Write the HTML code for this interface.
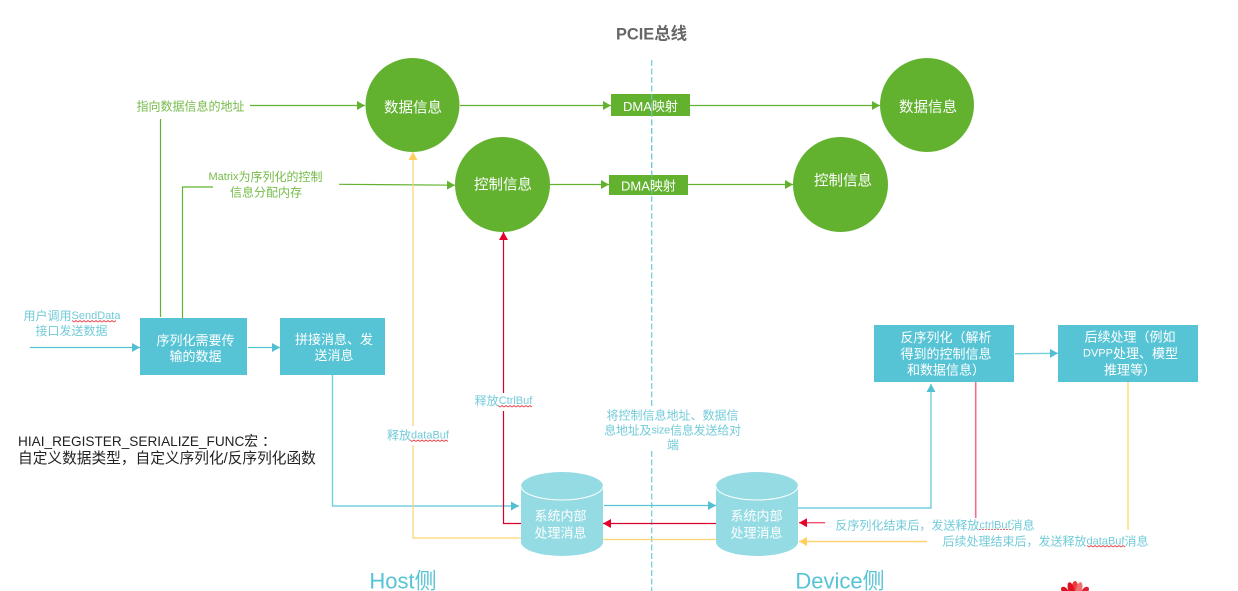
<!DOCTYPE html>
<html><head><meta charset="utf-8"><style>
html,body{margin:0;padding:0;background:#fff;width:1238px;height:591px;overflow:hidden}
svg{display:block}
text{font-family:"Liberation Sans","Noto Sans CJK SC",sans-serif;dominant-baseline:central;transform:translateY(1px)}
.w{fill:#fff;font-size:13px;text-anchor:middle}
.c{fill:#fff;font-size:14.500px;text-anchor:middle}
.t{fill:#72cbd9;font-size:12px;text-anchor:middle}
.g{fill:#74bb48;font-size:12px;text-anchor:middle}
.l{font-size:11px}
.wavy{fill:none;stroke:#e8424a;stroke-width:.8}
</style></head><body>
<svg width="1238" height="591" viewBox="0 0 1238 591" xmlns="http://www.w3.org/2000/svg">
<defs>
<marker id="ag" markerUnits="userSpaceOnUse" markerWidth="8" markerHeight="9" refX="8" refY="4.500" orient="auto"><path d="M0 0L8 4.500L0 9z" fill="#62b22f"/></marker>
<marker id="at" markerUnits="userSpaceOnUse" markerWidth="8" markerHeight="9" refX="8" refY="4.500" orient="auto"><path d="M0 0L8 4.500L0 9z" fill="#52bfd2"/></marker>
<marker id="ar" markerUnits="userSpaceOnUse" markerWidth="8" markerHeight="9" refX="8" refY="4.500" orient="auto"><path d="M0 0L8 4.500L0 9z" fill="#e4002b"/></marker>
<marker id="ay" markerUnits="userSpaceOnUse" markerWidth="8" markerHeight="9" refX="8" refY="4.500" orient="auto"><path d="M0 0L8 4.500L0 9z" fill="#ffd05f"/></marker>
</defs>

<text x="651.500" y="33" textLength="71" lengthAdjust="spacingAndGlyphs" style="font-size:17px;font-weight:bold;text-anchor:middle;fill:#666">PCIE总线</text>
<line x1="651.700" y1="60" x2="651.700" y2="591" stroke="#6ccbd9" stroke-width="1.200" stroke-dasharray="6 2.500"/>

<!-- green connectors -->
<g fill="none" stroke="#62b22f" stroke-width="1.200">
<path d="M250 105.500H365" marker-end="url(#ag)"/>
<path d="M160.500 119V317"/>
<path d="M182.500 318V187H213"/>
<path d="M339 184.300L455 185.200" marker-end="url(#ag)"/>
<path d="M460 105.500H611" marker-end="url(#ag)"/>
<path d="M690 105.500H880" marker-end="url(#ag)"/>
<path d="M550 184.500H609" marker-end="url(#ag)"/>
<path d="M688 184.500H793" marker-end="url(#ag)"/>
</g>
<text class="g" x="190.500" y="105.500">指向数据信息的地址</text>
<text class="g" x="265.500" y="176"><tspan class="l">Matrix</tspan>为序列化的控制</text>
<text class="g" x="266" y="191.500">信息分配内存</text>

<!-- circles -->
<g fill="#62b22f">
<circle cx="412.500" cy="105" r="47"/>
<circle cx="502.500" cy="184.500" r="47.500"/>
<circle cx="927" cy="105" r="47"/>
<circle cx="840.500" cy="184.500" r="47.500"/>
<rect x="611" y="94" width="79" height="22"/>
<rect x="609" y="175" width="79" height="20"/>
</g>
<line x1="651.700" y1="94" x2="651.700" y2="195" stroke="#6ccbd9" stroke-width="1" stroke-dasharray="6 2.500"/>
<text class="c" x="413" y="107.500">数据信息</text>
<text class="c" x="503" y="184.500">控制信息</text>
<text class="c" x="928" y="107">数据信息</text>
<text class="c" x="843" y="180.500">控制信息</text>
<text class="w" x="650.500" y="105.500">DMA映射</text>
<text class="w" x="648.500" y="185">DMA映射</text>

<!-- teal/red/yellow connectors -->
<path d="M30 347.500H140" fill="none" stroke="#57c4d5" stroke-width="1.200" marker-end="url(#at)"/>
<path d="M248 347.500H280" fill="none" stroke="#57c4d5" stroke-width="1.200" marker-end="url(#at)"/>
<path d="M332.500 375V506H519" fill="none" stroke="#73cfdd" stroke-width="1.400" marker-end="url(#at)"/>
<path d="M604 505.500H716" fill="none" stroke="#57c4d5" stroke-width="1.200" marker-end="url(#at)"/>
<path d="M798 508H931V384" fill="none" stroke="#73cfdd" stroke-width="1.400" marker-end="url(#at)"/>
<path d="M1015 353.700L1058 353.300" fill="none" stroke="#73cfdd" stroke-width="1.400" marker-end="url(#at)"/>

<path d="M521 523.500H503.500V232" fill="none" stroke="#d9002c" stroke-width="1.200" marker-end="url(#ar)"/>
<path d="M716 523.500H603" fill="none" stroke="#d9002c" stroke-width="1.200" marker-end="url(#ar)"/>
<path d="M975.700 380V518" fill="none" stroke="#ee7088" stroke-width="1.600"/>
<path d="M825 522.700H799" fill="none" stroke="#ee5070" stroke-width="1.400" marker-end="url(#ar)"/>

<path d="M521 538H413V152" fill="none" stroke="#ffd372" stroke-width="1.200" marker-end="url(#ay)"/>
<path d="M603 539.500H720" fill="none" stroke="#ffd372" stroke-width="1.200"/>
<path d="M1128 382V530" fill="none" stroke="#ffd96f" stroke-width="1.400"/>
<path d="M927 541.500H799" fill="none" stroke="#ffd372" stroke-width="1.400" marker-end="url(#ay)"/>

<!-- boxes -->
<g fill="#57c4d5">
<rect x="140" y="318" width="107" height="57"/>
<rect x="280" y="318" width="105" height="57"/>
<rect x="874" y="325" width="140" height="57"/>
<rect x="1058" y="325" width="140" height="57"/>
</g>
<text class="w" x="195.500" y="339.500">序列化需要传</text>
<text class="w" x="195.500" y="355.500">输的数据</text>
<text class="w" x="334" y="338.500">拼接消息、发</text>
<text class="w" x="334" y="354.500">送消息</text>
<text class="w" x="946" y="336.500">反序列化&#xFF08;解析</text>
<text class="w" x="946" y="353">得到的控制信息</text>
<text class="w" x="946" y="369">和数据信息&#xFF09;</text>
<text class="w" x="1130" y="336">后续处理&#xFF08;例如</text>
<text class="w" x="1130.500" y="352.500"><tspan class="l">DVPP</tspan>处理、模型</text>
<text class="w" x="1130" y="369">推理等&#xFF09;</text>

<!-- cylinders -->
<g>
<path d="M521 486A41 14 0 0 1 603 486V542A41 14 0 0 1 521 542Z" fill="#94dbe4"/>
<path d="M521 486A41 14 0 0 0 603 486" fill="none" stroke="#fff" stroke-width="1"/>
<path d="M716 486A41 14 0 0 1 798 486V542A41 14 0 0 1 716 542Z" fill="#94dbe4"/>
<path d="M716 486A41 14 0 0 0 798 486" fill="none" stroke="#fff" stroke-width="1"/>
</g>
<text class="w" x="560.500" y="515">系统内部</text>
<text class="w" x="560.500" y="532">处理消息</text>
<text class="w" x="756.500" y="515">系统内部</text>
<text class="w" x="756.500" y="532">处理消息</text>

<!-- label backgrounds -->
<g fill="#fff">
<rect x="472" y="393" width="64" height="18"/>
<rect x="385" y="426" width="66" height="19"/>
<rect x="602" y="407" width="142" height="44"/>
</g>

<!-- teal labels -->
<text class="t" x="72" y="315">用户调用<tspan class="l">SendData</tspan></text>
<text class="t" x="71.500" y="330">接口发送数据</text>
<path class="wavy" d="M72 320.500l2 1.500 2-1.500 2 1.500 2-1.500 2 1.500 2-1.500 2 1.500 2-1.500 2 1.500 2-1.500 2 1.500 2-1.500 2 1.500 2-1.500 2 1.500 2-1.500 2 1.500 2-1.500 2 1.500 2-1.500 2 1.500 2-1.500"/>
<text class="t" x="503.500" y="400">释放<tspan class="l">CtrlBuf</tspan></text>
<path class="wavy" d="M498 405.500l2 1.500 2-1.500 2 1.500 2-1.500 2 1.500 2-1.500 2 1.500 2-1.500 2 1.500 2-1.500 2 1.500 2-1.500 2 1.500 2-1.500 2 1.500 2-1.500 2 1.500"/>
<text class="t" x="418" y="434.500">释放<tspan class="l">dataBuf</tspan></text>
<path class="wavy" d="M410 440l2 1.500 2-1.500 2 1.500 2-1.500 2 1.500 2-1.500 2 1.500 2-1.500 2 1.500 2-1.500 2 1.500 2-1.500 2 1.500 2-1.500 2 1.500 2-1.500 2 1.500 2-1.500 2 1.500"/>
<text class="t" x="672.500" y="414.500">将控制信息地址、数据信</text>
<text class="t" x="672.500" y="429.500" style="letter-spacing:-.2px">息地址及<tspan class="l">size</tspan>信息发送给对</text>
<text class="t" x="673" y="444">端</text>
<text class="t" x="935" y="524.500">反序列化结束后&#xFF0C;发送释放<tspan class="l">ctrlBuf</tspan>消息</text>
<path class="wavy" stroke-dasharray="2 1" d="M979 529.500H1012"/>
<text class="t" x="1045.500" y="540.500">后续处理结束后&#xFF0C;发送释放<tspan class="l">dataBuf</tspan>消息</text>
<path class="wavy" d="M1087 545.500l2 1.500 2-1.500 2 1.500 2-1.500 2 1.500 2-1.500 2 1.500 2-1.500 2 1.500 2-1.500 2 1.500 2-1.500 2 1.500 2-1.500 2 1.500 2-1.500 2 1.500 2-1.500 2 1.500"/>

<text x="18" y="440" textLength="240" lengthAdjust="spacingAndGlyphs" style="font-size:14px;fill:#222">HIAI_REGISTER_SERIALIZE_FUNC宏</text>
<text x="262" y="440" style="font-size:14px;fill:#222">&#xFF1A;</text>
<text x="18" y="458" style="font-size:14.700px;fill:#222">自定义数据类型&#xFF0C;自定义序列化/反序列化函数</text>

<text x="403" y="580" style="font-size:22px;fill:#57c4d5;text-anchor:middle">Host侧</text>
<text x="840" y="580" style="font-size:22px;fill:#57c4d5;text-anchor:middle">Device侧</text>

<!-- logo -->
<g>
<ellipse cx="1075" cy="589" rx="3.500" ry="8" fill="#ee3a3a"/>
<ellipse cx="1071" cy="589" rx="3" ry="7" fill="#e01020" transform="rotate(-15 1071 589)"/>
<ellipse cx="1079" cy="589" rx="3" ry="7" fill="#f07070" transform="rotate(15 1079 589)"/>
<ellipse cx="1065" cy="591" rx="3" ry="5" fill="#e01020" transform="rotate(-40 1065 591)"/>
<ellipse cx="1085" cy="591" rx="3" ry="5" fill="#e02030" transform="rotate(40 1085 591)"/>
</g>
</svg>
</body></html>
